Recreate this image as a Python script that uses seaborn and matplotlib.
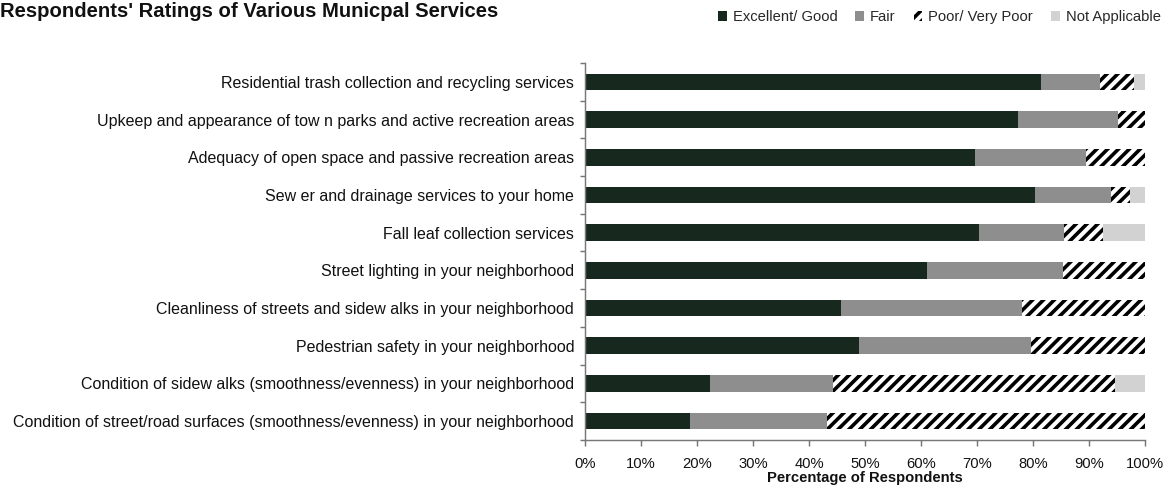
import numpy as np
import pandas as pd
import matplotlib
matplotlib.use("Agg")
import matplotlib.pyplot as plt
import matplotlib.patches as mpatches
import seaborn as sns

services = [
    "Residential trash collection and recycling services",
    "Upkeep and appearance of tow n parks and active recreation areas",
    "Adequacy of open space and passive recreation areas",
    "Sew er and drainage services to your home",
    "Fall leaf collection services",
    "Street lighting in your neighborhood",
    "Cleanliness of streets and sidew alks in your neighborhood",
    "Pedestrian safety in your neighborhood",
    "Condition of sidew alks (smoothness/evenness) in your neighborhood",
    "Condition of street/road surfaces (smoothness/evenness) in your neighborhood",
]
excellent_good = [81.5, 77.3, 69.6, 80.3, 70.4, 61.1, 45.7, 48.9, 22.4, 18.7]
fair = [10.4, 17.8, 19.8, 13.6, 15.1, 24.3, 32.3, 30.8, 21.8, 24.5]
poor_very_poor = [6.1, 4.9, 10.6, 3.5, 7.0, 14.6, 22.0, 20.3, 50.5, 56.8]
not_applicable = [2.0, 0.0, 0.0, 2.6, 7.5, 0.0, 0.0, 0.0, 5.3, 0.0]
series_names = ["Excellent/ Good", "Fair", "Poor/ Very Poor", "Not Applicable"]
x_ticks = [0, 10, 20, 30, 40, 50, 60, 70, 80, 90, 100]

DPI = 130
sns.set_theme(style="white")
plt.rcParams["font.family"] = ["Liberation Sans", "DejaVu Sans"]
plt.rcParams["hatch.linewidth"] = 2.0

df = pd.DataFrame({
    "service": services,
    "c1": np.array(excellent_good),
})
df["c2"] = df["c1"] + np.array(fair)
df["c3"] = df["c2"] + np.array(poor_very_poor)
df["c4"] = df["c3"] + np.array(not_applicable)

c_dark = "#17291f"
c_fair = "#8e8e8e"
c_na = "#d2d2d2"

fig = plt.figure(figsize=(1171 / DPI, 489 / DPI), dpi=DPI)
ax = fig.add_axes([585 / 1171, 49 / 489, 560 / 1171, 377 / 489])

bw = 0.44
sns.barplot(data=df, x="c4", y="service", orient="h", color=c_na, saturation=1,
            width=bw, errorbar=None, linewidth=0, ax=ax)
sns.barplot(data=df, x="c3", y="service", orient="h", color="white", saturation=1,
            width=bw, errorbar=None, linewidth=0, edgecolor="black", hatch="////", ax=ax)
sns.barplot(data=df, x="c2", y="service", orient="h", color=c_fair, saturation=1,
            width=bw, errorbar=None, linewidth=0, ax=ax)
sns.barplot(data=df, x="c1", y="service", orient="h", color=c_dark, saturation=1,
            width=bw, errorbar=None, linewidth=0, ax=ax)

ax.set_xlim(0, 100)
ax.set_ylim(len(services) - 0.5, -0.5)
ax.set_xticks(x_ticks)
ax.set_xticklabels([f"{v}%" for v in x_ticks], fontsize=8.2, color="#111111")
ax.tick_params(axis="x", which="major", direction="out", length=3.5, width=0.8,
               color="#777777", pad=6, bottom=True)
ax.tick_params(axis="y", which="major", length=0, pad=6, labelsize=8.9, labelcolor="#111111")
ax.set_yticks(np.arange(-0.5, len(services), 1), minor=True)
ax.tick_params(axis="y", which="minor", direction="out", length=3, width=0.8,
               color="#777777", left=True)
ax.set_ylabel("")
ax.set_xlabel("Percentage of Respondents", fontsize=8.2, fontweight="bold",
              labelpad=0, color="#111111")
for s in ["top", "right"]:
    ax.spines[s].set_visible(False)
for s in ["left", "bottom"]:
    ax.spines[s].set_color("#777777")
    ax.spines[s].set_linewidth(0.8)
ax.grid(False)

fig.text(0.0, 1 - 2 / 489, "Respondents' Ratings of Various Municpal Services",
         fontsize=11.2, fontweight="bold", ha="left", va="top", color="#111111")

handles = [
    mpatches.Patch(facecolor=c_dark, edgecolor="none", label=series_names[0]),
    mpatches.Patch(facecolor=c_fair, edgecolor="none", label=series_names[1]),
    mpatches.Patch(facecolor="white", edgecolor="black", hatch="////", linewidth=0,
                   label=series_names[2]),
    mpatches.Patch(facecolor=c_na, edgecolor="none", label=series_names[3]),
]
fig.legend(handles=handles, loc="upper right", bbox_to_anchor=(1.0, 1.0), ncol=4,
           frameon=False, fontsize=8.2, handlelength=0.6, handleheight=0.6,
           handletextpad=0.4, columnspacing=1.2, borderaxespad=0.3)

fig.savefig("out.png", dpi=DPI)
